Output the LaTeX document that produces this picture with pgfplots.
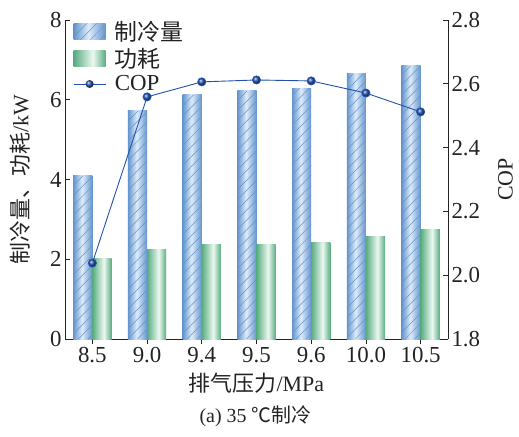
\documentclass[border=0pt]{standalone}
\usepackage{pgfplots}
\pgfplotsset{compat=1.18}
\usetikzlibrary{patterns,patterns.meta,shadings}
\usepackage{fontspec}
\setmainfont{Liberation Serif}
\newfontfamily\cjk{Noto Sans CJK SC}
\definecolor{bedge}{RGB}{100,148,205}
\definecolor{bmid}{RGB}{222,236,250}
\definecolor{gedge}{RGB}{88,172,128}
\definecolor{gmid}{RGB}{236,248,241}
\definecolor{copc}{RGB}{35,80,170}
\definecolor{txt}{RGB}{35,35,35}
\pgfdeclarehorizontalshading{blueshade}{100bp}{color(0bp)=(bedge); color(25bp)=(bedge); color(48bp)=(bmid); color(75bp)=(bedge); color(100bp)=(bedge)}
\pgfdeclarehorizontalshading{greenshade}{100bp}{color(0bp)=(gedge); color(25bp)=(gedge); color(55bp)=(gmid); color(75bp)=(gedge); color(100bp)=(gedge)}
\pgfplotsset{
  bluebar/.style={forget plot, bar shift=-0.175, draw=none, shading=blueshade},
  greenbar/.style={forget plot, bar shift=0.175, draw=none, shading=greenshade},
}
\begin{document}
\begin{tikzpicture}[font=\fontsize{22}{26}\selectfont, text=txt]
\path (-65bp,-98bp) rectangle (454bp,339bp);
\begin{axis}[
  scale only axis, width=383bp, height=319bp,
  xmin=-0.5, xmax=6.5, ymin=0, ymax=8,
  xtick=data, xticklabels={8.5,9.0,9.4,9.5,9.6,10.0,10.5},
  ytick={0,2,4,6,8},
  axis y line*=left, axis x line*=bottom,
  axis line style={txt, line width=0.6pt},
  tick style={txt, line width=0.6pt},
  tick align=inside, major tick length=5bp,
  /pgf/number format/assume math mode=true,
  ticklabel style={font=\fontsize{23}{26}\selectfont},
  xlabel={{\cjk 排气压力}/MPa},
  ylabel={{\cjk 制冷量、功耗}/kW},
  xlabel style={font=\fontsize{22}{26}\selectfont, at={(axis description cs:0.5,-0.138)}, anchor=center},
  ylabel style={font=\fontsize{22}{26}\selectfont, at={(axis description cs:-0.1175,0.5)}, anchor=center},
  ybar, bar width=0.35,
  legend style={draw=none, fill=none, at={(axis description cs:0,1)}, anchor=north west, xshift=5bp, yshift=3bp, font=\cjk\fontsize{23}{26}\selectfont, row sep=2.5bp},
  legend cell align=left,
]
\addlegendimage{legend image code/.code={\path[draw=none, shading=blueshade] (0bp,-8bp) rectangle (32bp,8bp); \path[draw=none, pattern={Lines[angle=45,distance=7bp,line width=0.5bp]}, pattern color=bedge] (0bp,-8bp) rectangle (32bp,8bp); \path (39bp,0bp);}}
\addlegendentry{制冷量}
\addlegendimage{legend image code/.code={\path[draw=none, shading=greenshade] (0bp,-8bp) rectangle (32bp,8bp); \path (39bp,0bp);}}
\addlegendentry{功耗}
\addlegendimage{legend image code/.code={\draw[copc, line width=0.9pt] (0bp,0bp) -- (32bp,0bp); \path[draw=none, ball color=copc] (16bp,0bp) circle (4bp); \path (39bp,0bp);}}
\addlegendentry{\rmfamily COP}
% cooling capacity
\addplot[bluebar] coordinates {(0,4.1)};
\addplot[bluebar] coordinates {(1,5.72)};
\addplot[bluebar] coordinates {(2,6.12)};
\addplot[bluebar] coordinates {(3,6.22)};
\addplot[bluebar] coordinates {(4,6.29)};
\addplot[bluebar] coordinates {(5,6.65)};
\addplot[bluebar] coordinates {(6,6.85)};
\addplot[forget plot, bar shift=-0.175, draw=none, fill=none, pattern={Lines[angle=45,distance=7bp,line width=0.5bp]}, pattern color=bedge] coordinates {(0,4.1) (1,5.72) (2,6.12) (3,6.22) (4,6.29) (5,6.65) (6,6.85)};
% power
\addplot[greenbar] coordinates {(0,2.02)};
\addplot[greenbar] coordinates {(1,2.25)};
\addplot[greenbar] coordinates {(2,2.36)};
\addplot[greenbar] coordinates {(3,2.38)};
\addplot[greenbar] coordinates {(4,2.42)};
\addplot[greenbar] coordinates {(5,2.58)};
\addplot[greenbar] coordinates {(6,2.74)};
\end{axis}
\begin{axis}[
  scale only axis, width=383bp, height=319bp,
  xmin=-0.5, xmax=6.5, ymin=1.8, ymax=2.8,
  axis y line*=right, axis x line=none,
  axis line style={txt, line width=0.6pt},
  tick style={txt, line width=0.6pt},
  tick align=inside, major tick length=5bp,
  ytick={1.8,2.0,...,2.8},
  yticklabel style={/pgf/number format/.cd, fixed, fixed zerofill, precision=1},
  /pgf/number format/assume math mode=true,
  ticklabel style={font=\fontsize{23}{26}\selectfont},
  ylabel={COP},
  ylabel style={font=\fontsize{22}{26}\selectfont, at={(axis description cs:1.15,0.5)}, anchor=center},
]
\addplot[copc, line width=0.9pt, mark=ball, mark size=4bp, mark options={ball color=copc}] coordinates {(0,2.038) (1,2.559) (2,2.606) (3,2.612) (4,2.609) (5,2.571) (6,2.512)};
\end{axis}
\node[font=\fontsize{20}{24}\selectfont] at (190.5bp,-77bp) {(a) 35 {\cjk ℃制冷}};
\end{tikzpicture}
\end{document}
